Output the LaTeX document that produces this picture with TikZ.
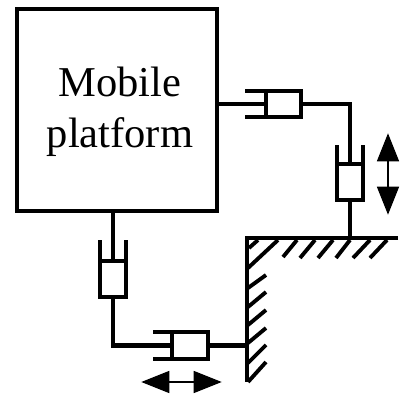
\documentclass[tikz,border=0pt]{standalone}
\usepackage{fontspec}
\setmainfont{Liberation Serif}
\usetikzlibrary{arrows.meta}
\tikzset{
  link/.style={line width=2.5pt},
  hatch/.style={line width=2.2pt},
  body/.style={draw,line width=2.5pt,minimum width=#1,inner sep=0pt,outer sep=0pt},
  motion/.style={line width=1pt,{Triangle[length=16pt,width=12.5pt]}-{Triangle[length=16pt,width=12.5pt]},shorten >=-1pt,shorten <=-1pt}
}
\begin{document}
\begin{tikzpicture}[x=0.02cm,y=-0.02cm]
\useasboundingbox (0,0) rectangle (402,395);
\node[draw,line width=2.5pt,outer sep=0pt,minimum width=4cm,minimum height=4.04cm,inner sep=0pt] (platform) at (117,110) {};
\node[font=\fontsize{24.2}{29.3}\selectfont,align=center,inner sep=0pt] (name) at (120,112) {Mobile\\platform};
% upper joints
\node[body=0.7cm,minimum height=0.52cm] (slideT) at (283.5,104) {};
\node[body=0.52cm,minimum height=0.72cm] (liftR) at (350,182) {};
\draw[link] (slideT.west -| platform.east) -- (slideT.west); \draw[link] (slideT.east) -| (liftR.north);
\draw[link] (slideT.north west) -- ++(-21,0); \draw[link] (slideT.south west) -- ++(-21,0);
\draw[link] (liftR.north west) -- ++(0,-19); \draw[link] (liftR.north east) -- ++(0,-19);
% lower joints
\node[body=0.52cm,minimum height=0.72cm] (liftL) at (113,279) {};
\node[body=0.72cm,minimum height=0.54cm] (slideB) at (190,345.5) {};
\draw[link] (liftL.north |- platform.south) -- (liftL.north); \draw[link] (liftL.south) |- (slideB.west);
\draw[link] (liftL.north west) -- ++(0,-21); \draw[link] (liftL.north east) -- ++(0,-21);
\draw[link] (slideB.north west) -- ++(-19,0); \draw[link] (slideB.south west) -- ++(-19,0);
% ground
\coordinate (groundR) at (398,238); \coordinate (corner) at (247,238); \coordinate (wallB) at (247,382);
\draw[link] (groundR) -- (corner) -- (wallB);
\draw[link] (liftR.south) -- (liftR.south |- corner); \draw[link] (slideB.east) -- (slideB.east -| corner);
\foreach \xa/\ya/\xb/\yb in {249/248/258/240,248/268/278/240,283/257/297/240,300/258/315/240,318/258/333/240,336/258/350/240,353/258/370/240,370/258/387/240,248/288/266/275,248/307/266/292,248/325/266/310,248/343/266/328,248/363/266/345,248/382/266/362}
  \draw[hatch] (\xa,\ya) -- (\xb,\yb);
% motion arrows
\coordinate (liftT) at (388,135); \coordinate (liftD) at (388,213);
\coordinate (slideL) at (143,382); \coordinate (slideE) at (220,382);
\draw[motion] (liftT) -- (liftD); \draw[motion] (slideL) -- (slideE);
\end{tikzpicture}
\end{document}
